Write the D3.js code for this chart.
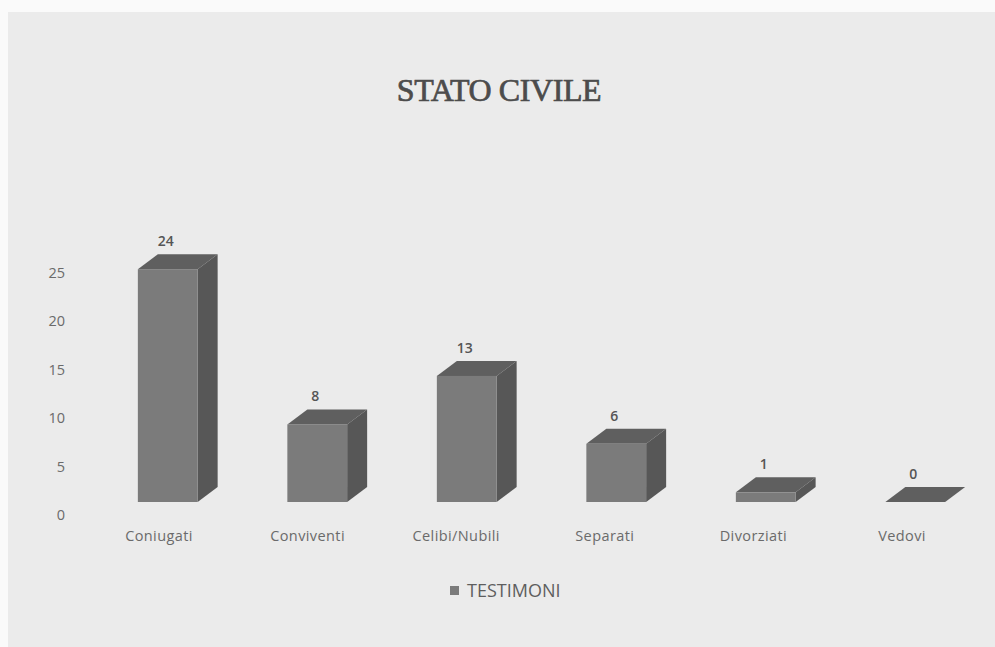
<!DOCTYPE html>
<html lang="it">
<head>
    <meta charset="UTF-8">
    <title>Stato civile</title>
    <script src="https://d3js.org/d3.v7.min.js"></script>
    <style>
        body { margin: 0; background: #fafafa; }
        text { font-family: "Open Sans", Lato, sans-serif; }
    </style>
</head>
<body>
    <div id="chart"></div>
    <script>
        const categories = ["Coniugati", "Conviventi", "Celibi/Nubili", "Separati", "Divorziati", "Vedovi"];
        const testimoni = [24, 8, 13, 6, 1, 0];
        const yTicks = [0, 5, 10, 15, 20, 25];
        const seriesName = "TESTIMONI";
        const title = "STATO CIVILE";

        const width = 995;
        const height = 647;
        const baseY = 502;        // front floor line of the bars
        const labelShift = 13;    // axis labels sit a bit lower than the bar floor
        const depth = { dx: 20, dy: -15 };

        const frontColor = "#7b7b7b";
        const topColor = "#5f5f5f";
        const sideColor = "#575757";
        const textColor = "#6a6a6a";

        const svg = d3.select("#chart")
            .append("svg")
            .attr("width", width)
            .attr("height", height);

        // paper background
        svg.append("rect")
            .attr("x", 8).attr("y", 12)
            .attr("width", width - 8).attr("height", height - 12)
            .attr("fill", "#ebebeb");

        const xScale = d3.scaleBand()
            .domain(categories)
            .range([93, 990])
            .paddingInner(0.6)
            .paddingOuter(0.3);

        const labelScale = d3.scalePoint()
            .domain(categories)
            .range([159, 902]);

        const yScale = d3.scaleLinear()
            .domain([0, 25])
            .range([baseY, baseY - 242.5]);

        // y axis labels (no line, no ticks)
        const yAxis = svg.append("g")
            .attr("transform", `translate(65, ${labelShift})`)
            .call(d3.axisLeft(yScale).tickValues(yTicks).tickSize(0).tickPadding(0));
        yAxis.select(".domain").remove();
        yAxis.selectAll("text")
            .attr("fill", textColor)
            .attr("font-size", 14.5)
            .attr("font-family", "'Open Sans', sans-serif");

        // category labels
        svg.append("g")
            .selectAll("text")
            .data(categories)
            .join("text")
            .attr("x", d => labelScale(d))
            .attr("y", 541)
            .attr("text-anchor", "middle")
            .attr("font-size", 14.5)
            .attr("letter-spacing", 0.4)
            .attr("fill", textColor)
            .text(d => d);

        const data = categories.map((c, i) => ({ cat: c, value: testimoni[i] }));
        const bars = svg.append("g")
            .selectAll("g")
            .data(data)
            .join("g");

        const w = xScale.bandwidth();

        // top face
        bars.append("path")
            .attr("d", d => {
                const x0 = xScale(d.cat), y0 = yScale(d.value);
                return `M${x0},${y0} L${x0 + depth.dx},${y0 + depth.dy} L${x0 + w + depth.dx},${y0 + depth.dy} L${x0 + w},${y0} Z`;
            })
            .attr("fill", topColor);

        // side face
        bars.append("path")
            .attr("d", d => {
                const x1 = xScale(d.cat) + w, y0 = yScale(d.value);
                return `M${x1},${y0} L${x1 + depth.dx},${y0 + depth.dy} L${x1 + depth.dx},${baseY + depth.dy} L${x1},${baseY} Z`;
            })
            .attr("fill", sideColor);

        // front face
        bars.append("rect")
            .attr("x", d => xScale(d.cat))
            .attr("y", d => yScale(d.value))
            .attr("width", w)
            .attr("height", d => baseY - yScale(d.value))
            .attr("fill", frontColor);

        // value labels
        bars.append("text")
            .attr("x", d => xScale(d.cat) + w / 2 - 2)
            .attr("y", d => yScale(d.value) + depth.dy - 8)
            .attr("text-anchor", "middle")
            .attr("font-size", 14)
            .attr("font-weight", 600)
            .attr("fill", "#555")
            .text(d => d.value);

        // title
        svg.append("text")
            .attr("x", 499)
            .attr("y", 101)
            .attr("text-anchor", "middle")
            .style("font-family", "'Liberation Serif', 'DejaVu Serif', serif")
            .attr("font-size", 32)
            .attr("letter-spacing", -0.4)
            .attr("fill", "#4c4c4c")
            .attr("stroke", "#4c4c4c")
            .attr("stroke-width", 0.7)
            .text(title);

        // legend
        const legend = svg.append("g").attr("transform", "translate(450, 586)");
        legend.append("rect")
            .attr("width", 9).attr("height", 9)
            .attr("fill", frontColor);
        legend.append("text")
            .attr("x", 17)
            .attr("y", 11)
            .attr("font-size", 18)
            .attr("fill", "#5e5e5e")
            .text(seriesName);
    </script>
</body>
</html>
